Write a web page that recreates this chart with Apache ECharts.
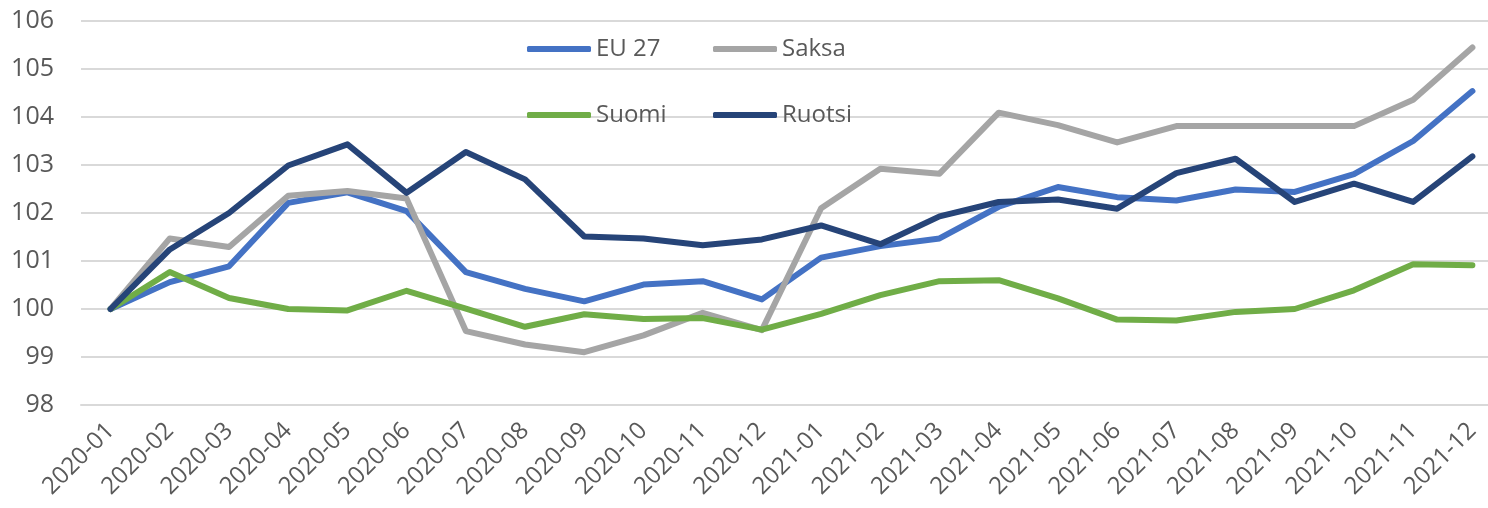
<!DOCTYPE html>
<html>
<head>
<meta charset="utf-8">
<script src="https://cdn.jsdelivr.net/npm/echarts@6/dist/echarts.min.js"></script>
<style>
html, body { margin: 0; padding: 0; background: #fff; }
#chart { width: 1488px; height: 508px; }
</style>
</head>
<body>
<div id="chart"></div>
<script>
// kuukaudet
var months = ['2020-01','2020-02','2020-03','2020-04','2020-05','2020-06','2020-07','2020-08','2020-09','2020-10','2020-11','2020-12',
              '2021-01','2021-02','2021-03','2021-04','2021-05','2021-06','2021-07','2021-08','2021-09','2021-10','2021-11','2021-12'];

var eu27   = [100, 100.56, 100.89, 102.21, 102.43, 102.04, 100.77, 100.42, 100.16, 100.51, 100.58, 100.20,
              101.07, 101.31, 101.47, 102.13, 102.54, 102.33, 102.26, 102.49, 102.44, 102.81, 103.50, 104.54];
var saksa  = [100, 101.47, 101.29, 102.36, 102.46, 102.30, 99.54, 99.26, 99.10, 99.45, 99.92, 99.56,
              102.10, 102.92, 102.82, 104.09, 103.83, 103.47, 103.81, 103.81, 103.81, 103.81, 104.36, 105.45];
var suomi  = [100, 100.77, 100.23, 100.00, 99.97, 100.38, 100.01, 99.63, 99.89, 99.79, 99.81, 99.57,
              99.90, 100.29, 100.58, 100.60, 100.22, 99.78, 99.76, 99.94, 100.00, 100.39, 100.93, 100.91];
var ruotsi = [100, 101.24, 102.00, 102.99, 103.43, 102.42, 103.27, 102.70, 101.51, 101.47, 101.33, 101.45,
              101.74, 101.35, 101.93, 102.23, 102.28, 102.09, 102.83, 103.13, 102.23, 102.61, 102.23, 103.18];

var yMin = 98, yMax = 106, yStep = 1;

var colors = {
    'EU 27': '#4472C4',
    'Saksa': '#A5A5A5',
    'Suomi': '#70AD47',
    'Ruotsi': '#264478'
};

var textColor = '#595959';
var font = 'Open Sans';

function legendAt(name, left, top){
    return {
        data: [name],
        left: left,
        top: top,
        icon: 'roundRect',
        itemWidth: 64,
        itemHeight: 6,
        padding: 0,
        selectedMode: false,
        textStyle: { color: textColor, fontSize: 24, fontFamily: font, padding: [0, 0, 0, 0] }
    };
}

function lineSeries(name, data){
    return {
        name: name,
        type: 'line',
        data: data,
        symbol: 'none',
        smooth: false,
        color: colors[name],
        lineStyle: { width: 6, color: colors[name], cap: 'round', join: 'round' },
        emphasis: { disabled: true }
    };
}

var myChart = echarts.init(document.getElementById('chart'));
myChart.setOption({
    animation: false,
    backgroundColor: '#fff',
    legend: [
        legendAt('EU 27', 527, 37),
        legendAt('Saksa', 713, 37),
        legendAt('Suomi', 527, 103),
        legendAt('Ruotsi', 713, 103)
    ],
    grid: {
        left: 81,
        top: 21,
        width: 1421,
        height: 384,
        containLabel: false,
        outerBoundsMode: 'none'
    },
    xAxis: {
        type: 'category',
        data: months,
        boundaryGap: true,
        axisLine: { show: true, lineStyle: { color: '#d9d9d9', width: 2 } },
        axisTick: { show: false },
        axisLabel: {
            rotate: 45,
            interval: 0,
            margin: 22,
            color: textColor,
            fontSize: 24,
            fontFamily: font
        }
    },
    yAxis: {
        type: 'value',
        min: yMin,
        max: yMax,
        interval: yStep,
        axisLine: { show: false },
        axisTick: { show: false },
        splitLine: { lineStyle: { color: '#d9d9d9', width: 2 } },
        axisLabel: {
            margin: 27,
            color: textColor,
            fontSize: 25,
            fontFamily: font
        }
    },
    series: [
        lineSeries('EU 27', eu27),
        lineSeries('Saksa', saksa),
        lineSeries('Suomi', suomi),
        lineSeries('Ruotsi', ruotsi)
    ]
});
</script>
</body>
</html>
